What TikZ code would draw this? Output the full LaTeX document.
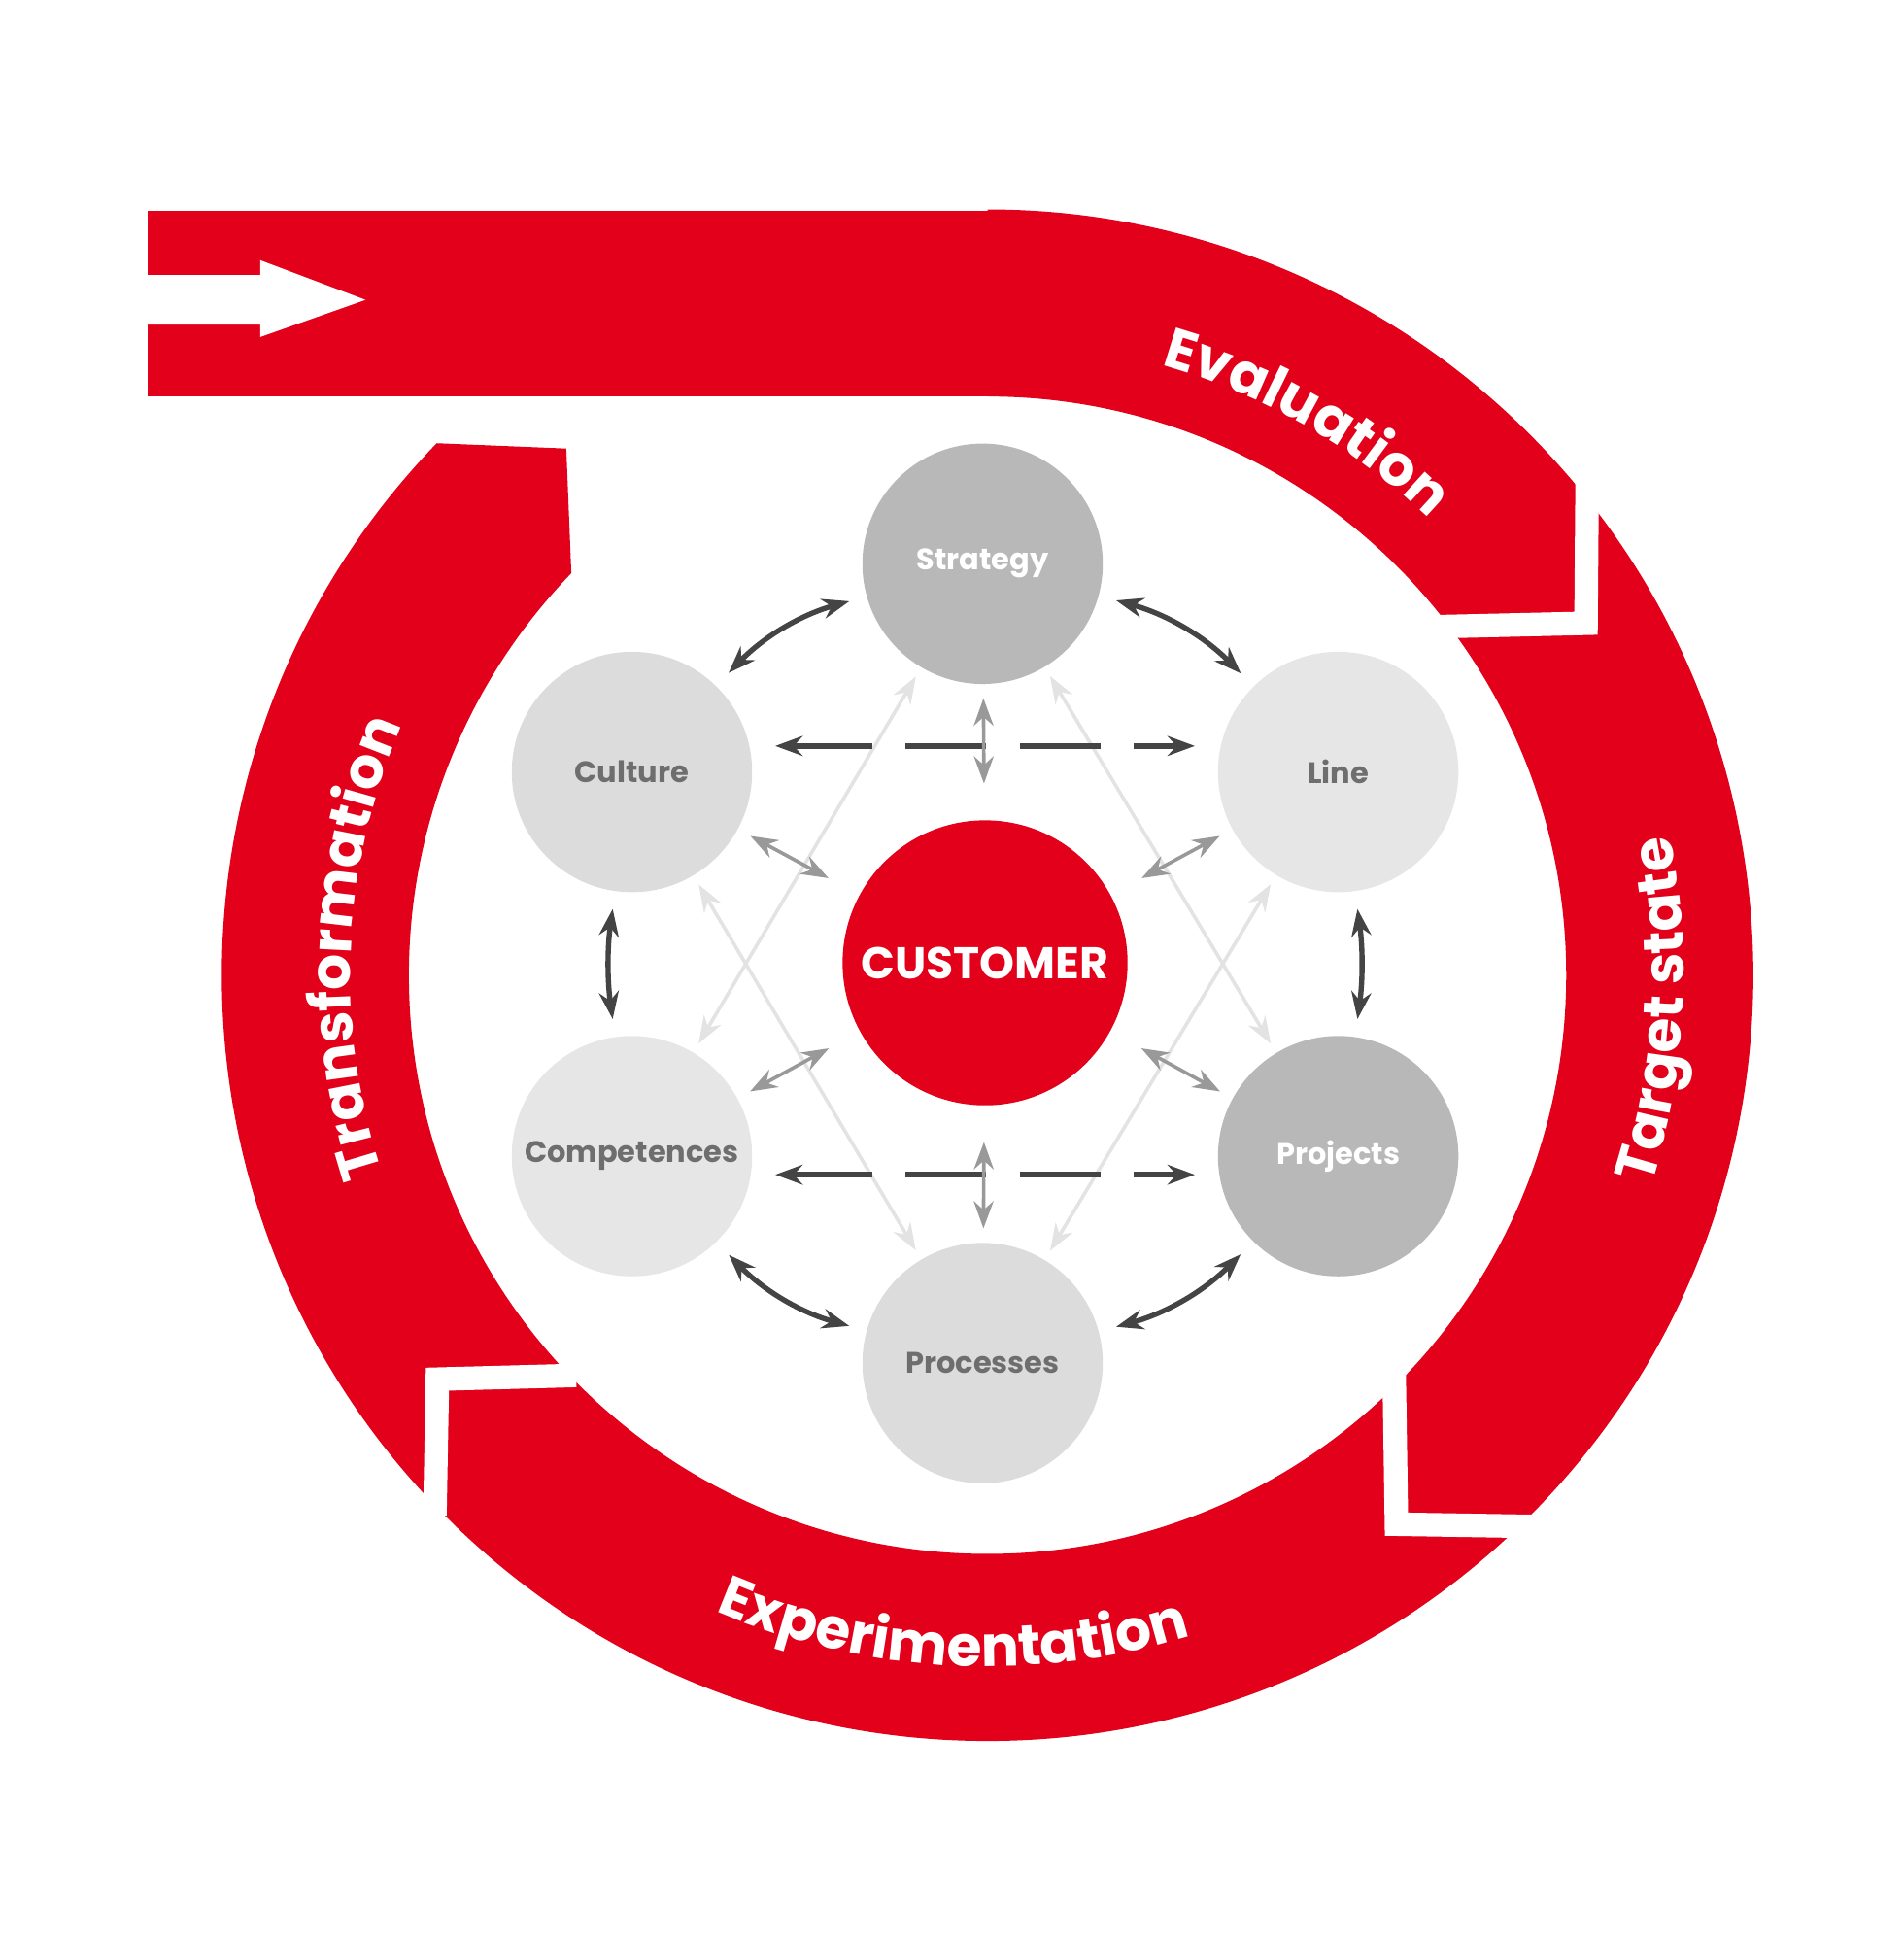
\documentclass[tikz,border=0pt]{standalone}
\usepackage{fontspec}
\setmainfont{Poppins}
\usetikzlibrary{arrows.meta,decorations.text,calc}
\definecolor{cred}{HTML}{E2001A}
\definecolor{gdark}{HTML}{444444}
\definecolor{gmid}{HTML}{999999}
\definecolor{glight}{HTML}{E3E3E3}
\definecolor{gtext}{HTML}{6E6E6E}
\tikzstyle{cbig}=[circle, minimum size=1.94cm, inner sep=0pt, font=\fontsize{6.8}{8}\selectfont\bfseries]
\tikzstyle{cdark}=[cbig, fill={rgb,255:red,184;green,184;blue,184}, text=white]
\tikzstyle{cmid}=[cbig, fill={rgb,255:red,220;green,220;blue,220}, text=gtext]
\tikzstyle{cpale}=[cbig, fill={rgb,255:red,230;green,230;blue,230}, text=gtext]
\tikzstyle{ccust}=[circle, minimum size=2.3cm, inner sep=0pt, fill=cred, text=white, font=\fontsize{10.2}{12}\selectfont\bfseries]
\tikzstyle{arcl}=[decorate, decoration={text along path, text align=center, text color=white}]
\tikzstyle{gapline}=[white, line width=0.19cm]
\newcommand{\arcfont}{\fontsize{13}{16}\selectfont\bfseries}

\begin{document}
\begin{tikzpicture}[>={Stealth[length=2.2mm,width=1.6mm]}]
\useasboundingbox (0,0) rectangle (15.36,15.68);
\coordinate (C) at (7.97,7.81);

% red band and ring
\fill[cred] (1.19,12.48) rectangle (7.97,13.98);
\fill[cred] ($(C)+(136:6.18)$) arc[start angle=136, end angle=450, radius=6.18]
  -- ($(C)+(90:4.67)$) arc[start angle=450, end angle=136, radius=4.67]
  -- (4.57,12.06) -- cycle;
\fill[white] (1.19,13.46) -- (2.10,13.46) -- (2.10,13.58) -- (2.95,13.26)
  -- (2.10,12.96) -- (2.10,13.06) -- (1.19,13.06) -- cycle;

% gaps between the stages
\draw[gapline] (12.81,11.95) -- (12.80,10.65) -- (11.50,10.62);
\draw[gapline] (11.25,4.70) -- (11.27,3.38) -- (12.50,3.36);
\draw[gapline] (4.65,4.58) -- (3.53,4.55) -- (3.51,3.45);

% stage labels
\path[arcl, decoration={text={|\arcfont|Evaluation}}]
  ($(C)+(80:5.12)$) arc[start angle=80, end angle=40, radius=5.12];
\path[arcl, decoration={text={|\arcfont|Target state}}]
  ($(C)+(-30:5.62)$) arc[start angle=-30, end angle=24, radius=5.62];
\path[arcl, decoration={text={|\arcfont|Experimentation}}]
  ($(C)+(-123:5.58)$) arc[start angle=-123, end angle=-63, radius=5.58];
\path[arcl, decoration={text={|\arcfont|Transformation}}]
  ($(C)+(207.5:5.14)$) arc[start angle=207.5, end angle=147.5, radius=5.14];

% circles
\node[cdark] (strat) at (7.93,11.13) {Strategy};
\node[cmid] (cult) at (5.10,9.45) {Culture};
\node[cpale] (line) at (10.80,9.45) {Line};
\node[cpale] (comp) at (5.10,6.35) {Competences};
\node[cdark] (proj) at (10.80,6.35) {Projects};
\node[cmid] (proc) at (7.93,4.68) {Processes};
\node[ccust] (cust) at (7.95,7.91) {CUSTOMER};

% long light diagonals
\draw[glight, thick, <->, shorten <=0.08cm, shorten >=0.08cm] (strat) -- (comp);
\draw[glight, thick, <->, shorten <=0.08cm, shorten >=0.08cm] (strat) -- (proj);
\draw[glight, thick, <->, shorten <=0.08cm, shorten >=0.08cm] (cult) -- (proc);
\draw[glight, thick, <->, shorten <=0.08cm, shorten >=0.08cm] (line) -- (proc);

% dashed horizontals
\draw[gdark, very thick, <->, dash pattern=on 0.65cm off 0.27cm, shorten <=0.18cm, shorten >=0.18cm]
  ([yshift=0.21cm]cult.east) -- ([yshift=0.21cm]line.west);
\draw[gdark, very thick, <->, dash pattern=on 0.65cm off 0.27cm, shorten <=0.18cm, shorten >=0.18cm]
  ([yshift=-0.15cm]comp.east) -- ([yshift=-0.15cm]proj.west);

% to the customer
\draw[gmid, thick, <->, shorten <=0.11cm, shorten >=0.29cm] (strat) -- (cust);
\draw[gmid, thick, <->, shorten <=0.11cm, shorten >=0.29cm] (proc) -- (cust);
\draw[gmid, thick, <->, shorten <=0.11cm, shorten >=0.28cm] (cult) -- (cust);
\draw[gmid, thick, <->, shorten <=0.11cm, shorten >=0.28cm] (line) -- (cust);
\draw[gmid, thick, <->, shorten <=0.11cm, shorten >=0.28cm] (comp) -- (cust);
\draw[gmid, thick, <->, shorten <=0.11cm, shorten >=0.28cm] (proj) -- (cust);

% around the ring
\draw[gdark, very thick, <->, shorten <=0.14cm, shorten >=0.14cm] (strat) to[bend left=15] (line);
\draw[gdark, very thick, <->, shorten <=0.14cm, shorten >=0.14cm] (line) to[bend left=8] (proj);
\draw[gdark, very thick, <->, shorten <=0.14cm, shorten >=0.14cm] (proj) to[bend left=15] (proc);
\draw[gdark, very thick, <->, shorten <=0.14cm, shorten >=0.14cm] (proc) to[bend left=15] (comp);
\draw[gdark, very thick, <->, shorten <=0.14cm, shorten >=0.14cm] (comp) to[bend left=8] (cult);
\draw[gdark, very thick, <->, shorten <=0.14cm, shorten >=0.14cm] (cult) to[bend left=15] (strat);

\end{tikzpicture}
\end{document}
